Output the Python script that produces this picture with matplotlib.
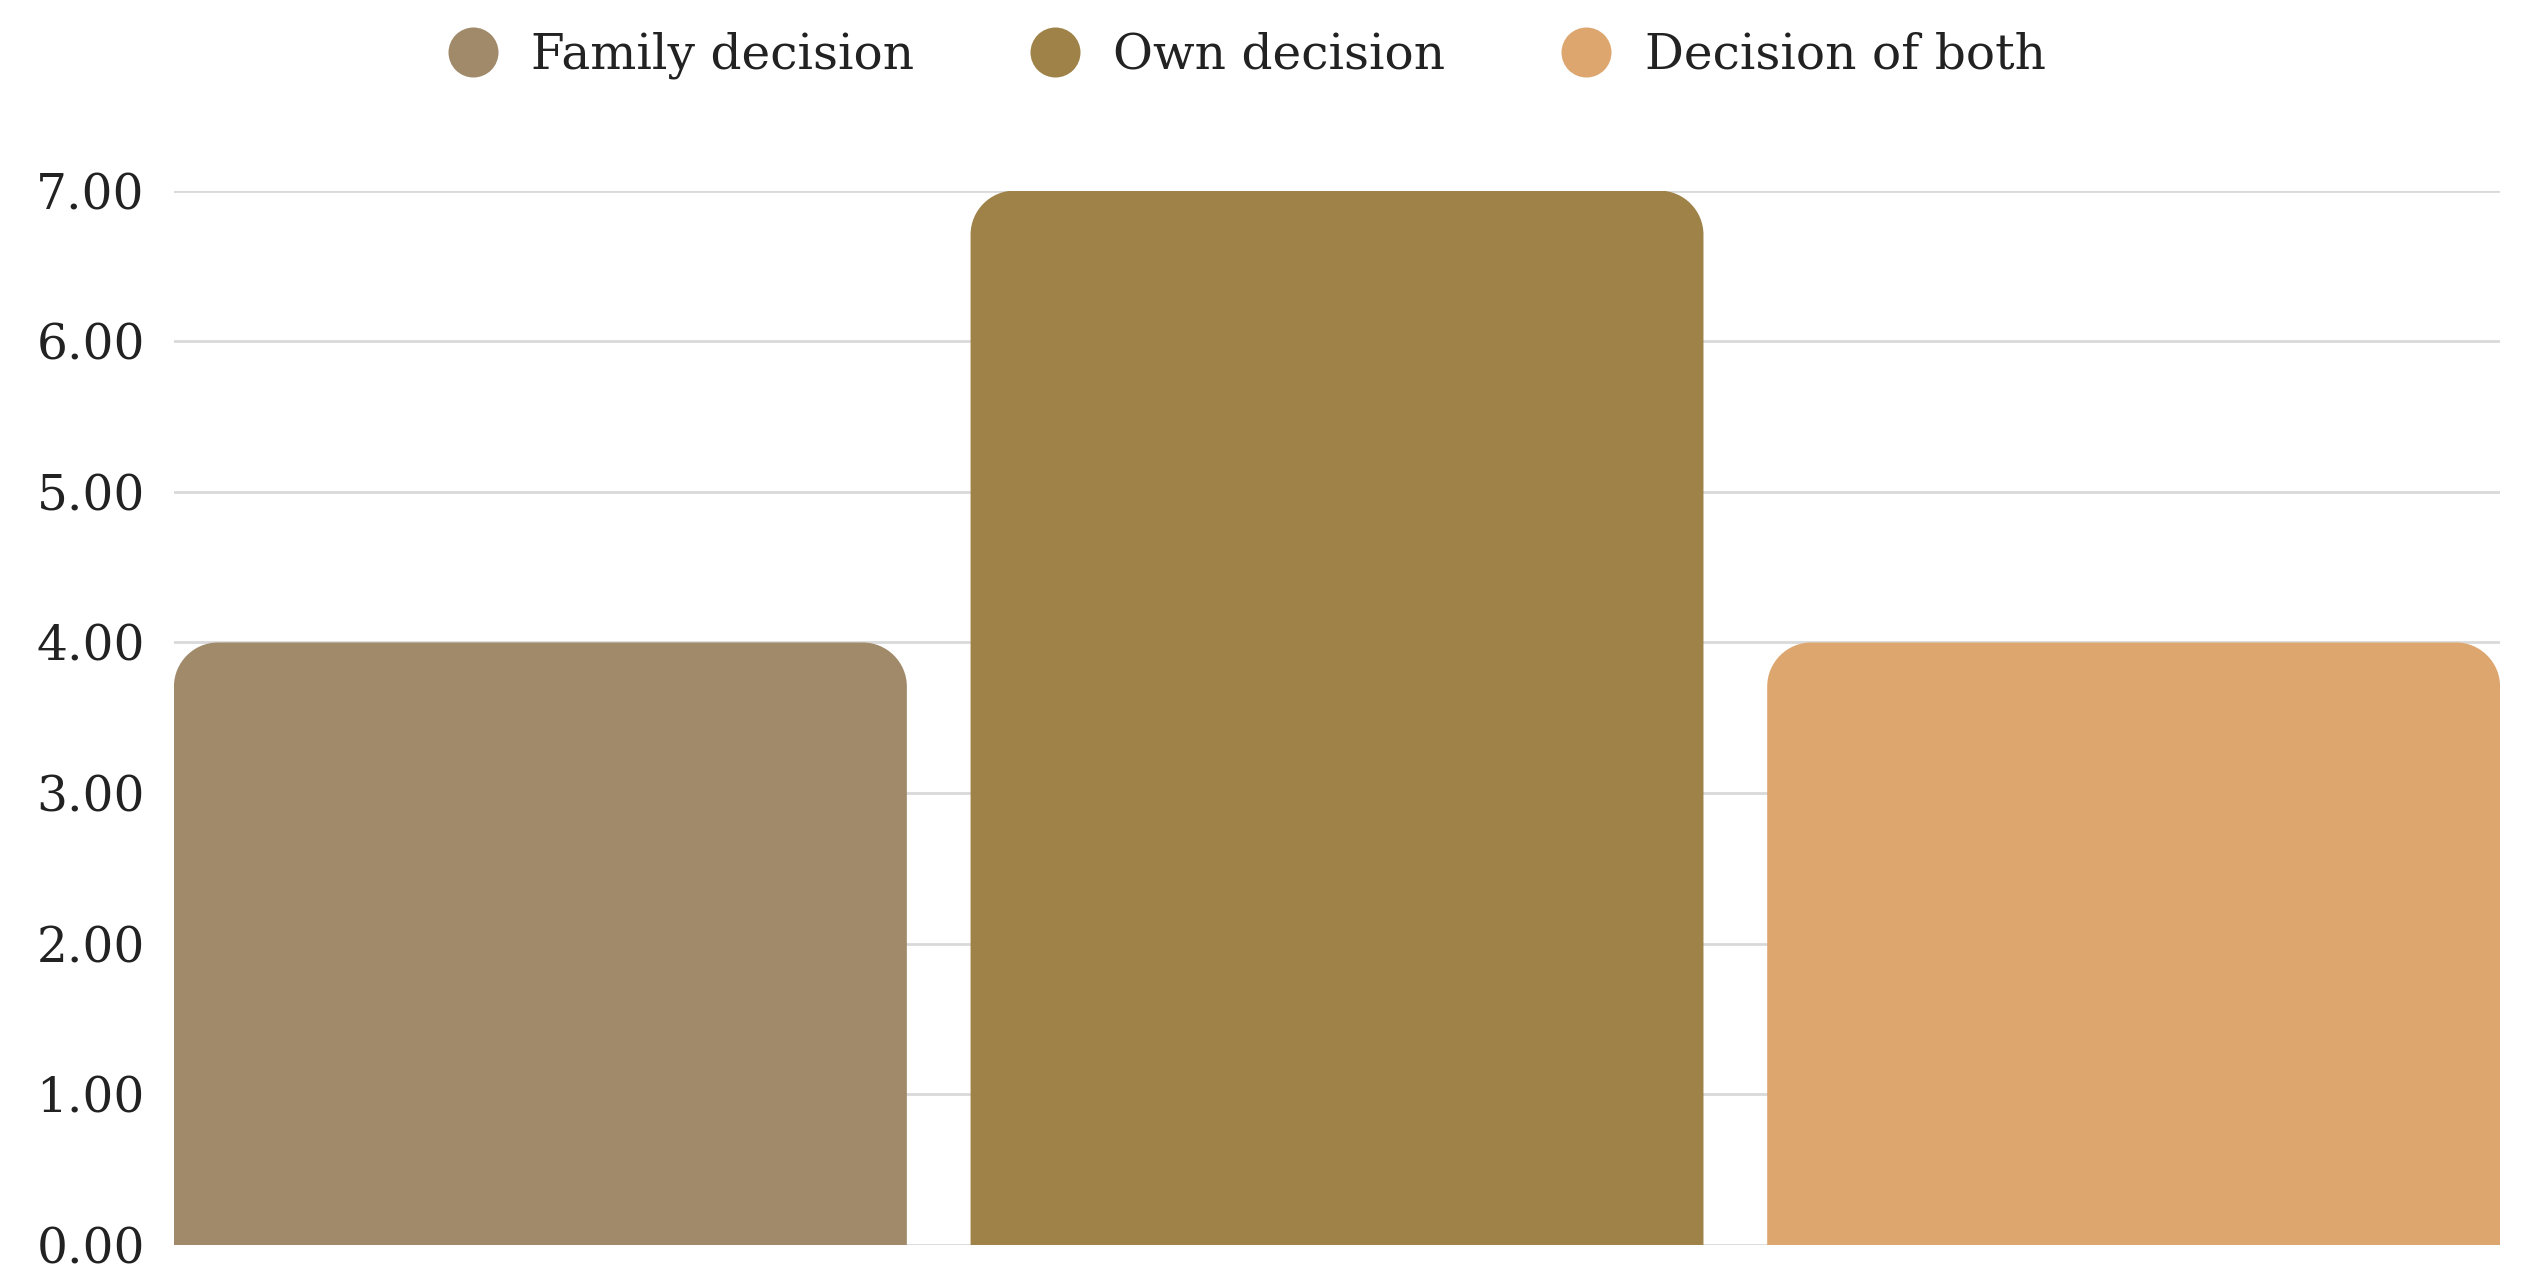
import matplotlib.pyplot as plt
from matplotlib.path import Path
from matplotlib.patches import PathPatch
from matplotlib.lines import Line2D

categories = ['Family decision', 'Own decision', 'Decision of both']
values = [4.0, 7.0, 4.0]
colors = ['#A08A6A', '#9E8248', '#DDA66F']
yticks = [0, 1, 2, 3, 4, 5, 6, 7]

plt.rcParams['font.family'] = ['DejaVu Serif']

fig = plt.figure(figsize=(25.32, 12.88), dpi=100)
ax = fig.add_axes([0.0687, 0.0334, 0.9187, 0.8186])

barWidth = 0.92
ax.set_xlim(-barWidth / 2, len(values) - 1 + barWidth / 2)
ax.set_ylim(0, 7)


def roundedTop(x0, x1, top, rx, ry):
    # bar with the two top corners rounded
    k = 0.55
    verts = [(x0, 0), (x0, top - ry),
             (x0, top - ry + k * ry), (x0 + rx - k * rx, top), (x0 + rx, top),
             (x1 - rx, top),
             (x1 - rx + k * rx, top), (x1, top - ry + k * ry), (x1, top - ry),
             (x1, 0), (x0, 0)]
    codes = [Path.MOVETO, Path.LINETO,
             Path.CURVE4, Path.CURVE4, Path.CURVE4,
             Path.LINETO,
             Path.CURVE4, Path.CURVE4, Path.CURVE4,
             Path.LINETO, Path.CLOSEPOLY]
    return Path(verts, codes)


bars = ax.bar(range(len(values)), values, width=barWidth, color=colors)
fig.canvas.draw()
pxX = ax.transData.transform((1, 0))[0] - ax.transData.transform((0, 0))[0]
pxY = ax.transData.transform((0, 1))[1] - ax.transData.transform((0, 0))[1]
radius = 44
for bar, c in zip(bars, colors):
    bar.set_visible(False)
    x0 = bar.get_x()
    x1 = x0 + bar.get_width()
    ax.add_patch(PathPatch(roundedTop(x0, x1, bar.get_height(), radius / pxX, radius / pxY),
                           facecolor=c, edgecolor='none', zorder=3))

ax.set_yticks(yticks)
ax.set_yticklabels([f'{t:.2f}' for t in yticks])
ax.set_xticks([])
ax.yaxis.grid(True, color='#d9d9d9', linewidth=2)
ax.set_axisbelow(True)
for s in ax.spines.values():
    s.set_visible(False)
ax.tick_params(axis='y', length=0, pad=21, labelsize=35, labelcolor='#222222')

handles = [Line2D([], [], linestyle='none', marker='o', markersize=36,
                  markerfacecolor=c, markeredgecolor='none') for c in colors]
fig.legend(handles, categories, loc='center', bbox_to_anchor=(0.4925, 0.957),
           ncol=3, frameon=False, fontsize=35, handletextpad=0.7,
           columnspacing=2.4, handlelength=1.0, labelcolor='#222222')

fig.savefig('out.png', dpi=100, facecolor='white')
